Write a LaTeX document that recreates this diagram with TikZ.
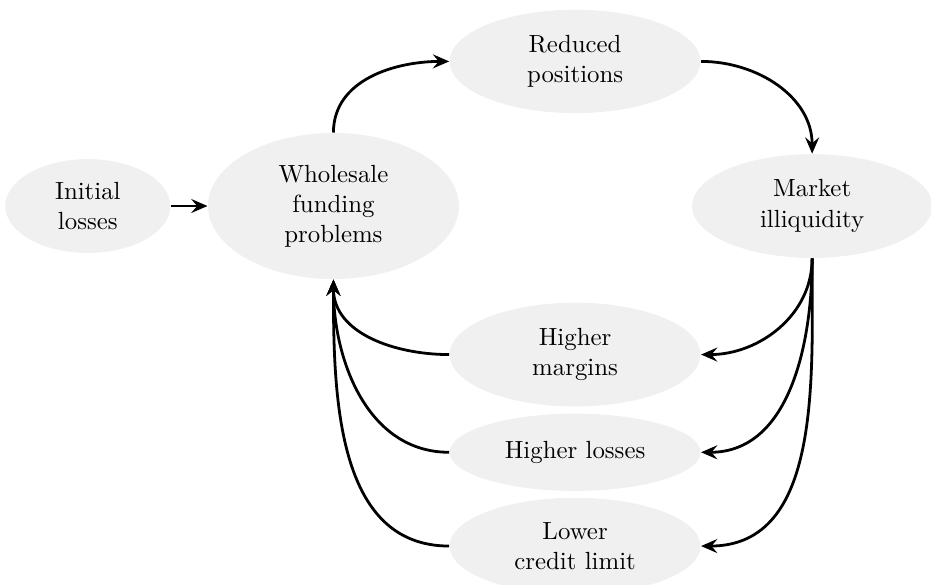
\documentclass[tikz,border=0pt]{standalone}
\usepackage{tikz}
\usetikzlibrary{shapes.geometric,arrows.meta}
\definecolor{bubble}{gray}{0.94}
\tikzset{
  blob/.style={ellipse, fill=bubble, align=center, inner sep=4.5pt, minimum width=3.8cm,
    font=\fontsize{10.7pt}{13pt}\selectfont},
  flow/.style={-{Stealth[length=7pt,width=6pt,inset=2.5pt]}, line width=1.2pt}
}
\begin{document}
\begin{tikzpicture}
        \useasboundingbox (0,0) rectangle (14.1,8.85);
        \node[blob, minimum width=2.5cm, minimum height=1.42cm, inner sep=2pt] at (1.33,5.73) (init) {Initial\\losses};
        \node[blob, minimum height=2.12cm] at (5.05,5.73) (whole) {Wholesale\\funding\\problems};
        \node[blob, minimum height=1.48cm] at (8.71,7.92) (reduced) {Reduced\\positions};
        \node[blob, minimum width=3.64cm, minimum height=1.5cm] at (12.3,5.73) (market) {Market\\illiquidity};
        \node[blob, minimum height=1.48cm] at (8.71,3.48) (margins) {Higher\\margins};
        \node[blob, minimum height=1.17cm] at (8.71,2.0) (losses) {Higher\ losses};
        \node[blob, minimum height=1.45cm] at (8.71,0.58) (credit) {Lower\\credit\ limit};

        \draw[flow] (init) -- (whole);
        \draw[flow] (whole.north) to[out=90, in=180] (reduced.west);
        \draw[flow] (reduced.east) to[out=0, in=90] (market.north);
        \draw[flow] (market.south) to[out=-90, in=0] (margins.east);
        \draw[flow] (market.south) to[out=-90, in=0] (losses.east);
        \draw[flow] (market.south) to[out=-90, in=0] (credit.east);
        \draw[flow] (margins.west) to[out=180, in=-90] (whole.south);
        \draw[flow] (losses.west) to[out=180, in=-90] (whole.south);
        \draw[flow] (credit.west) to[out=180, in=-90] (whole.south);
      \end{tikzpicture}
\end{document}
